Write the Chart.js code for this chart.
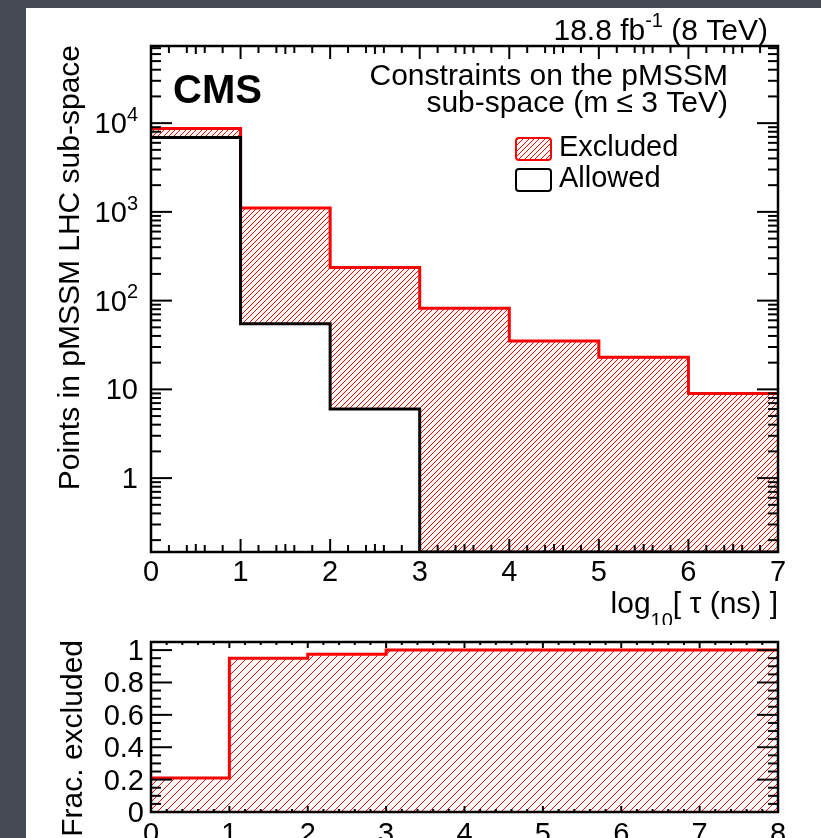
<!DOCTYPE html>
<html>
<head>
<meta charset="utf-8">
<script src="https://cdn.jsdelivr.net/npm/chart.js@4.4.1/dist/chart.umd.min.js"></script>
<style>
  html, body { margin: 0; padding: 0; }
  body { width: 821px; height: 838px; background: #474b56; position: relative; overflow: hidden; }
  #sheet { position: absolute; left: 26px; top: 8px; width: 795px; height: 830px; background: #fff; }
  #mainChart { position: absolute; left: 0; top: 0; }
  #ratioChart { position: absolute; left: 0; top: 625px; }
</style>
</head>
<body>
<div id="sheet"></div>
<canvas id="mainChart" width="821" height="625"></canvas>
<canvas id="ratioChart" width="821" height="213"></canvas>
<script>
// log10(tau/ns) bins
const binEdges = [0, 1, 2, 3, 4, 5, 6, 7];
const excluded = [1800, 1050, 230, 82, 35, 23, 9];
const allowed = [6880, 55, 6, 0, 0, 0, 0];

// fraction excluded panel
const fracEdges = [0, 1, 2, 3, 4, 5, 6, 7, 8];
const fracExcluded = [0.21, 0.95, 0.975, 1, 1, 1, 1, 1];

// tick labels
const xTickLabels = ['0', '1', '2', '3', '4', '5', '6', '7'];
const fracXTickLabels = ['0', '1', '2', '3', '4', '5', '6', '7', '8'];
const yDecades = [1, 10, 100, 1000, 10000];
const fracYTicks = [0, 0.2, 0.4, 0.6, 0.8, 1];
const fracYTickLabels = ['0', '0.2', '0.4', '0.6', '0.8', '1'];

const Y_MIN = 0.147, Y_MAX = 74000;
const FONT = '"Liberation Sans", Arial, Helvetica, sans-serif';
const RED = '#ff0000';

function stepPoints(edges, values, floor) {
    const pts = values.map((v, i) => ({ x: edges[i], y: Math.max(v, floor) }));
    pts.push({ x: edges[values.length], y: Math.max(values[values.length - 1], floor) });
    return pts;
}

// ROOT style 3004 hatch: one-pixel "/" diagonals at the given offsets of a size x size tile
function makeHatch(ctx, size, offsets) {
    const c = document.createElement('canvas');
    c.width = size; c.height = size;
    const g = c.getContext('2d');
    g.fillStyle = RED;
    offsets.forEach(o => {
        for (let i = 0; i < size; i++) g.fillRect(i, (o - i + 2 * size) % size, 1, 1);
    });
    return ctx.createPattern(c, 'repeat');
}

function partFont(p, size) {
    return (p.bold ? 'bold ' : '') + Math.round(p.mode ? size * 0.68 : size) + 'px ' + FONT;
}

// text made of plain / superscript / subscript pieces
function drawRich(ctx, parts, x, y, size, align) {
    let w = 0;
    parts.forEach(p => { ctx.font = partFont(p, size); p.w = ctx.measureText(p.t).width; w += p.w; });
    let cx = align === 'right' ? x - w : align === 'center' ? x - w / 2 : x;
    ctx.textAlign = 'left';
    ctx.textBaseline = 'alphabetic';
    parts.forEach(p => {
        ctx.font = partFont(p, size);
        const dy = p.mode === 'sup' ? -size * 0.42 : p.mode === 'sub' ? size * 0.45 : 0;
        ctx.fillText(p.t, cx, y + dy);
        cx += p.w;
    });
}

function tick(ctx, x1, y1, x2, y2) {
    ctx.beginPath();
    ctx.moveTo(x1, y1);
    ctx.lineTo(x2, y2);
    ctx.stroke();
}

function rotatedTitle(ctx, text, x, y, size) {
    ctx.save();
    ctx.translate(x, y);
    ctx.rotate(-Math.PI / 2);
    ctx.font = size + 'px ' + FONT;
    ctx.textAlign = 'right';
    ctx.textBaseline = 'alphabetic';
    ctx.fillText(text, 0, 0);
    ctx.restore();
}

const mainCtx = document.getElementById('mainChart').getContext('2d');
const ratioCtx = document.getElementById('ratioChart').getContext('2d');
const hatchMain = makeHatch(mainCtx, 16, [0, 5, 11]);
const hatchRatio = makeHatch(ratioCtx, 8, [7]);

const totals = excluded.map((v, i) => v + allowed[i]);

// frame, inward ticks and all labels of the upper pad
const mainDecor = {
    id: 'mainDecor',
    afterDraw(chart) {
        const ctx = chart.ctx;
        const a = chart.chartArea;
        const xs = chart.scales.x, ys = chart.scales.y;
        ctx.save();
        ctx.strokeStyle = '#000';
        ctx.fillStyle = '#000';
        ctx.lineWidth = 2;
        ctx.lineCap = 'butt';

        // x ticks, top and bottom
        for (let i = 0; i < xTickLabels.length; i++) {
            const px = xs.getPixelForValue(i);
            tick(ctx, px, a.bottom, px, a.bottom - 13);
            tick(ctx, px, a.top, px, a.top + 13);
            if (i < xTickLabels.length - 1) {
                [0.2, 0.4, 0.5, 0.6, 0.8].forEach(f => {
                    const mx = xs.getPixelForValue(i + f);
                    const len = f === 0.5 ? 8 : 7;
                    tick(ctx, mx, a.bottom, mx, a.bottom - len);
                    tick(ctx, mx, a.top, mx, a.top + len);
                });
            }
        }

        // log y ticks, left and right
        for (let n = -1; n <= 4; n++) {
            for (let m = 1; m <= 9; m++) {
                const v = m * Math.pow(10, n);
                if (v < Y_MIN || v > Y_MAX) continue;
                const py = ys.getPixelForValue(v);
                const len = m === 1 ? 21 : 10;
                tick(ctx, a.left, py, a.left + len, py);
                tick(ctx, a.right, py, a.right - len, py);
            }
        }

        ctx.lineWidth = 2.5;
        ctx.strokeRect(a.left, a.top, a.right - a.left, a.bottom - a.top);

        // tick labels
        ctx.font = '29px ' + FONT;
        ctx.textAlign = 'center';
        ctx.textBaseline = 'alphabetic';
        xTickLabels.forEach((t, i) => ctx.fillText(t, xs.getPixelForValue(i), a.bottom + 29));
        yDecades.forEach(v => {
            const py = ys.getPixelForValue(v) + 10;
            const e = Math.round(Math.log10(v));
            const parts = e < 2 ? [{ t: String(v) }] : [{ t: '10' }, { t: String(e), mode: 'sup' }];
            drawRich(ctx, parts, a.left - 13, py, 29, 'right');
        });

        // axis titles
        drawRich(ctx, [{ t: 'log' }, { t: '10', mode: 'sub' }, { t: '[ \u03c4 (ns) ]' }], a.right, a.bottom + 61, 30, 'right');
        rotatedTitle(ctx, 'Points in pMSSM LHC sub-space', 79, 45, 30);

        // header texts
        drawRich(ctx, [{ t: '18.8 fb' }, { t: '-1', mode: 'sup' }, { t: ' (8 TeV)' }], 768, 40, 30, 'right');
        ctx.font = 'bold 40px ' + FONT;
        ctx.textAlign = 'left';
        ctx.fillText('CMS', 173, 103);
        ctx.font = '30px ' + FONT;
        ctx.textAlign = 'right';
        ctx.fillText('Constraints on the pMSSM', 728, 85);
        ctx.fillText('sub-space (m \u2264 3 TeV)', 728, 112);

        // legend
        ctx.lineWidth = 2;
        ctx.fillStyle = hatchMain;
        ctx.strokeStyle = RED;
        ctx.beginPath();
        ctx.roundRect(516, 138, 35, 22, 3);
        ctx.fill();
        ctx.stroke();
        ctx.strokeStyle = '#000';
        ctx.beginPath();
        ctx.roundRect(516, 169, 35, 22, 3);
        ctx.stroke();
        ctx.fillStyle = '#000';
        ctx.font = '29px ' + FONT;
        ctx.textAlign = 'left';
        ctx.fillText('Excluded', 559, 156);
        ctx.fillText('Allowed', 559, 187);
        ctx.restore();
    }
};

// frame, ticks and labels of the ratio pad
const ratioDecor = {
    id: 'ratioDecor',
    afterDraw(chart) {
        const ctx = chart.ctx;
        const a = chart.chartArea;
        const xs = chart.scales.x, ys = chart.scales.y;
        ctx.save();
        ctx.strokeStyle = '#000';
        ctx.fillStyle = '#000';
        ctx.lineWidth = 2;

        for (let k = 0; k <= 40; k++) {
            const v = k * 0.2;
            const px = xs.getPixelForValue(v);
            const len = k % 5 === 0 ? 6 : 3;
            tick(ctx, px, a.bottom, px, a.bottom - len);
            tick(ctx, px, a.top, px, a.top + len);
        }
        for (let k = 0; k <= 21; k++) {
            const v = k * 0.05;
            const py = ys.getPixelForValue(v);
            const len = k % 4 === 0 ? 21 : 10;
            tick(ctx, a.left, py, a.left + len, py);
            tick(ctx, a.right, py, a.right - len, py);
        }

        ctx.lineWidth = 2.5;
        ctx.strokeRect(a.left, a.top, a.right - a.left, a.bottom - a.top);

        ctx.font = '29px ' + FONT;
        ctx.textAlign = 'center';
        ctx.textBaseline = 'alphabetic';
        fracXTickLabels.forEach((t, i) => ctx.fillText(t, xs.getPixelForValue(i), a.bottom + 31));
        ctx.textAlign = 'right';
        fracYTicks.forEach((v, i) => ctx.fillText(fracYTickLabels[i], a.left - 7, ys.getPixelForValue(v) + 10));

        rotatedTitle(ctx, 'Frac. excluded', 82, 15, 30);
        ctx.restore();
    }
};

new Chart(mainCtx, {
    type: 'line',
    data: {
        datasets: [{
            label: 'Allowed',
            data: stepPoints(binEdges, allowed, Y_MIN),
            stepped: 'before',
            borderColor: '#000',
            borderWidth: 3,
            borderJoinStyle: 'miter',
            pointRadius: 0,
            fill: false
        }, {
            label: 'Excluded',
            data: stepPoints(binEdges, totals, Y_MIN),
            stepped: 'before',
            borderColor: RED,
            borderWidth: 3,
            borderJoinStyle: 'miter',
            backgroundColor: hatchMain,
            pointRadius: 0,
            fill: 0
        }]
    },
    options: {
        responsive: false,
        animation: false,
        events: [],
        layout: { padding: { left: 151, right: 43, top: 46, bottom: 73 } },
        plugins: { legend: { display: false }, tooltip: { enabled: false } },
        scales: {
            x: { type: 'linear', min: 0, max: 7, display: false },
            y: { type: 'logarithmic', min: Y_MIN, max: Y_MAX, display: false }
        }
    },
    plugins: [mainDecor]
});

new Chart(ratioCtx, {
    type: 'line',
    data: {
        datasets: [{
            label: 'Frac. excluded',
            data: stepPoints(fracEdges, fracExcluded, 0),
            stepped: 'before',
            borderColor: RED,
            borderWidth: 3,
            borderJoinStyle: 'miter',
            backgroundColor: hatchRatio,
            pointRadius: 0,
            fill: 'origin'
        }]
    },
    options: {
        responsive: false,
        animation: false,
        events: [],
        layout: { padding: { left: 151, right: 43, top: 17, bottom: 26 } },
        plugins: { legend: { display: false }, tooltip: { enabled: false } },
        scales: {
            x: { type: 'linear', min: 0, max: 8, display: false },
            y: { type: 'linear', min: 0, max: 1.05, display: false }
        }
    },
    plugins: [ratioDecor]
});
</script>
</body>
</html>
